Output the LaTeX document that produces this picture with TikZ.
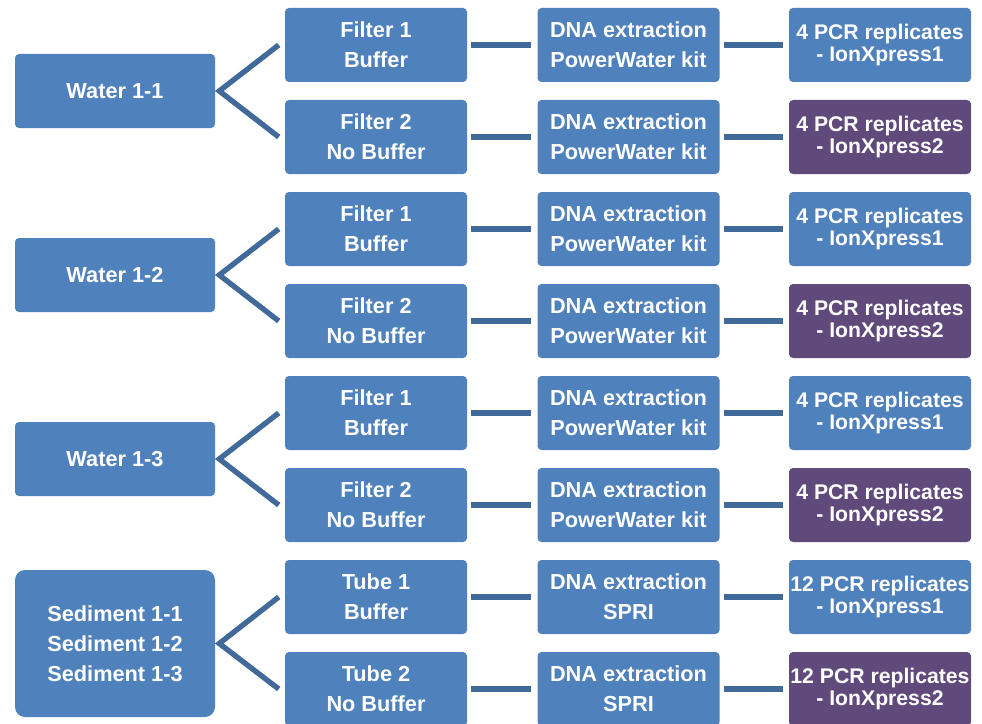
\documentclass[tikz,border=0pt]{standalone}
\usepackage{fontspec}
\setmainfont{Liberation Sans}
\definecolor{boxblue}{HTML}{4F81BD}
\definecolor{boxpurple}{HTML}{604A7B}
\definecolor{linkblue}{HTML}{41699A}
\tikzset{
    box/.style={fill=boxblue, text=white, font=\fontsize{16.3}{22.5}\selectfont\bfseries,
        align=center, rounded corners=3pt, minimum width=136.5pt, minimum height=55.5pt, inner sep=0pt},
    pcrbox/.style={box, font=\fontsize{15.9}{16.5}\selectfont\bfseries},
    seqbox/.style={pcrbox, fill=boxpurple},
    samplebox/.style={box, minimum width=150pt},
    link/.style={draw=linkblue, line width=4pt, shorten <=3pt, shorten >=4.5pt},
    fork/.style={draw=linkblue, line width=4pt, miter limit=10}
}
\newcommand{\Branch}[6]{
    \node[box] (f#1) at (376,#2) {#3};
    \node[box] (d#1) at (628.5,#2) {DNA extraction\\#4};
    \node[#6] (p#1) at (880,#2) {#5};
    \draw[link] (f#1) -- (d#1);
    \draw[link] (d#1) -- (p#1);
}
\newcommand{\Fork}[3]{
    \draw[fork] ([xshift=-4.5pt]#2.west) -- ([xshift=3pt]#1.east) -- ([xshift=-4.5pt]#3.west);
}

\begin{document}
\begin{tikzpicture}[x=0.75pt, y=-0.75pt]
    \useasboundingbox (0,0) rectangle (982,724);

    \node[samplebox] (w1) at (115,91) {Water 1-1};
    \node[samplebox] (w2) at (115,275) {Water 1-2};
    \node[samplebox] (w3) at (115,459) {Water 1-3};
    \node[samplebox, minimum height=110.25pt, rounded corners=7.5pt] (s1) at (115,643.5)
        {Sediment 1-1\\Sediment 1-2\\Sediment 1-3};

    \Branch{1}{45}{Filter 1\\Buffer}{PowerWater kit}{4 PCR replicates\\- IonXpress1}{pcrbox}
    \Branch{2}{137}{Filter 2\\No Buffer}{PowerWater kit}{4 PCR replicates\\- IonXpress2}{seqbox}
    \Branch{3}{229}{Filter 1\\Buffer}{PowerWater kit}{4 PCR replicates\\- IonXpress1}{pcrbox}
    \Branch{4}{321}{Filter 2\\No Buffer}{PowerWater kit}{4 PCR replicates\\- IonXpress2}{seqbox}
    \Branch{5}{413}{Filter 1\\Buffer}{PowerWater kit}{4 PCR replicates\\- IonXpress1}{pcrbox}
    \Branch{6}{505}{Filter 2\\No Buffer}{PowerWater kit}{4 PCR replicates\\- IonXpress2}{seqbox}
    \Branch{7}{597}{Tube 1\\Buffer}{SPRI}{12 PCR replicates\\- IonXpress1}{pcrbox}
    \Branch{8}{689}{Tube 2\\No Buffer}{SPRI}{12 PCR replicates\\- IonXpress2}{seqbox}

    \Fork{w1}{f1}{f2}
    \Fork{w2}{f3}{f4}
    \Fork{w3}{f5}{f6}
    \Fork{s1}{f7}{f8}
\end{tikzpicture}
\end{document}
